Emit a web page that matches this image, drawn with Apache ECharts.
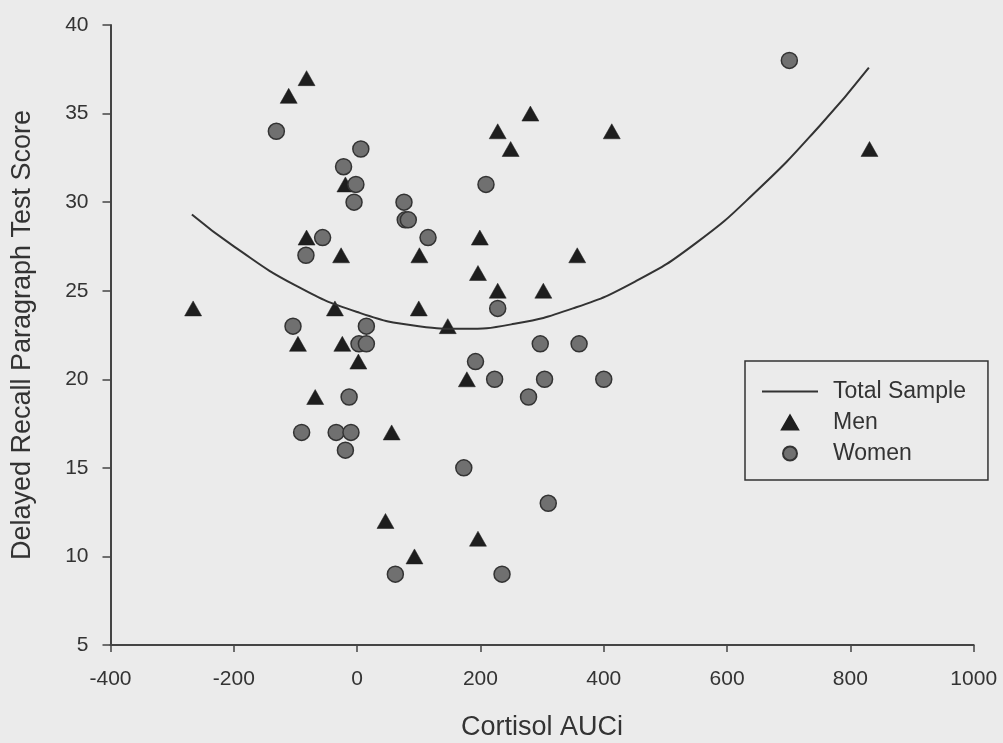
<!DOCTYPE html>
<html>
<head>
<meta charset="utf-8">
<script src="https://cdn.jsdelivr.net/npm/echarts@6/dist/echarts.min.js"></script>
<style>
html,body{margin:0;padding:0;background:#ebebeb;}
#chart{width:1003px;height:743px;}
</style>
</head>
<body>
<div id="chart"></div>
<script>
// Men (triangles)
const menX = [-266,-111,-82,-82,-26,-19,-36,-96,-24,2,-68,56,46,93,101,100,147,199,196,228,228,249,281,302,357,413,178,196,831];
const menY = [24,36,37,28,27,31,24,22,22,21,19,17,12,10,27,24,23,28,26,25,34,33,35,25,27,34,20,11,33];
// Women (circles)
const womenX = [-131,6,-22,-2,209,-5,76,78,83,115,-56,-83,-104,15,3,15,228,297,360,192,223,304,400,278,-13,-90,-34,-10,-19,173,310,62,235,701];
const womenY = [34,33,32,31,31,30,30,29,29,28,28,27,23,23,22,22,24,22,22,21,20,20,20,19,19,17,17,17,16,15,13,9,9,38];
// Total Sample fitted curve
const curveX = [-268,-200,-100,0,100,170,250,350,450,550,650,750,830];
const curveY = [29.3,27.5,25.3,23.8,23.0,22.85,23.1,24.0,25.5,27.7,30.7,34.3,37.6];
// Axis ticks
const xTicks = {min:-400,max:1000,interval:200};
const yTicks = {min:5,max:40,interval:5};

const font = 'Liberation Sans, Arial, sans-serif';
const txt = '#333333';

const zip = (a,b)=>a.map((v,i)=>[v,b[i]]);

const chart = echarts.init(document.getElementById('chart'));
chart.setOption({
  backgroundColor:'#ebebeb',
  animation:false,
  grid:{left:110.5,right:29.3,top:25,bottom:98,outerBoundsMode:'none',containLabel:false},
  legend:{
    orient:'vertical',
    left:745, top:361,
    padding:[19,22,15,17],
    borderColor:'#333',
    borderWidth:1.5,
    itemWidth:56, itemHeight:14,
    itemGap:8,
    data:[
      {name:'Total Sample', icon:'path://M0,6 L56,6 L56,8 L0,8 Z'},
      {name:'Men', icon:'path://M0,13 L7.5,0 L15,13 Z'},
      {name:'Women', icon:'circle'}
    ],
    textStyle:{fontFamily:font,fontSize:23,color:txt,padding:[0,0,0,10]}
  },
  xAxis:{
    type:'value', min:xTicks.min, max:xTicks.max, interval:xTicks.interval,
    name:'Cortisol AUCi', nameLocation:'middle', nameGap:69,
    nameTextStyle:{fontFamily:font,fontSize:27,color:txt},
    axisLine:{onZero:false,lineStyle:{color:'#444',width:2}},
    axisTick:{show:true,inside:false,length:7,lineStyle:{color:'#444',width:1.5}},
    axisLabel:{fontFamily:font,fontSize:21,color:txt,margin:24,formatter:v=>String(v)},
    splitLine:{show:false}
  },
  yAxis:{
    type:'value', min:yTicks.min, max:yTicks.max, interval:yTicks.interval,
    name:'Delayed Recall Paragraph Test Score', nameLocation:'middle', nameGap:74,
    nameTextStyle:{fontFamily:font,fontSize:27,color:txt},
    axisLine:{show:true,onZero:false,lineStyle:{color:'#444',width:2}},
    axisTick:{show:true,inside:false,length:8,lineStyle:{color:'#444',width:1.5}},
    axisLabel:{fontFamily:font,fontSize:21,color:txt,margin:22},
    splitLine:{show:false}
  },
  series:[
    {
      name:'Total Sample', type:'line', smooth:true, symbol:'none', showSymbol:false,
      data:zip(curveX,curveY),
      lineStyle:{color:'#333',width:2}, itemStyle:{color:'#333'}, z:3
    },
    {
      name:'Men', type:'scatter', symbol:'triangle', symbolSize:[17,15],
      data:zip(menX,menY),
      itemStyle:{color:'#1e1e1e',borderColor:'#1e1e1e',borderWidth:0.5,opacity:1}, z:2
    },
    {
      name:'Women', type:'scatter', symbol:'circle', symbolSize:16,
      data:zip(womenX,womenY),
      itemStyle:{color:'#707070',borderColor:'#333',borderWidth:1.5,opacity:1}, z:2
    }
  ]
});
</script>
</body>
</html>
